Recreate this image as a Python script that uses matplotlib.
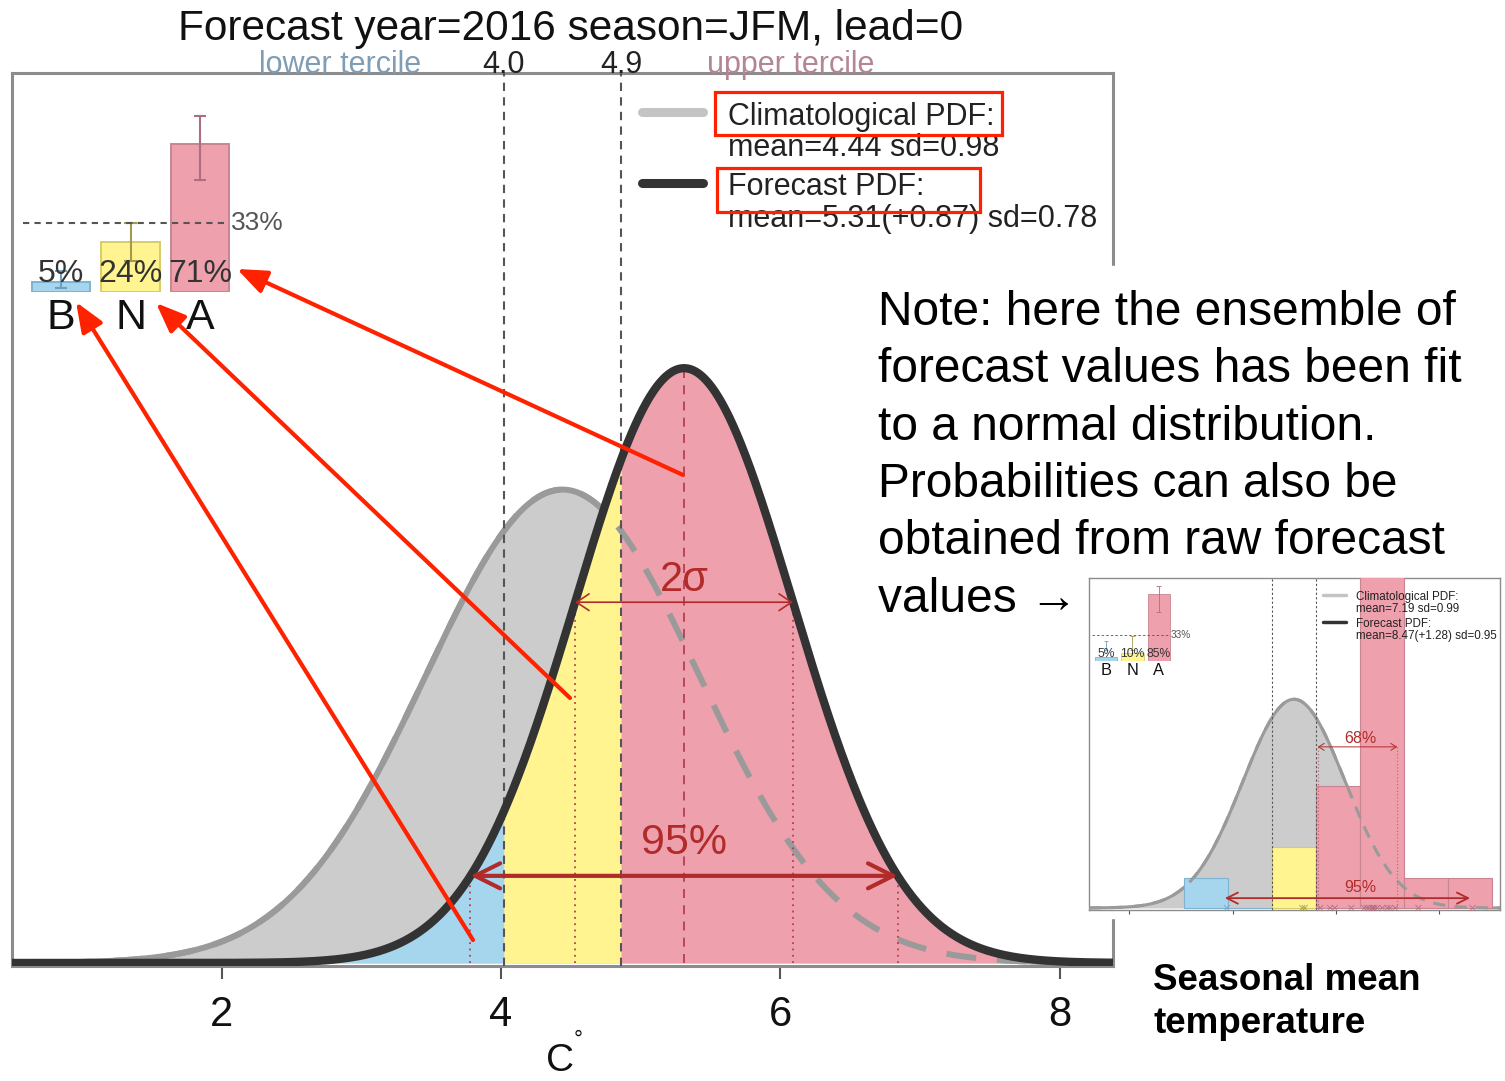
import numpy as np
import matplotlib
matplotlib.use('Agg')
import matplotlib.pyplot as plt
from matplotlib.patches import Rectangle, FancyArrowPatch
from matplotlib.lines import Line2D

plt.rcParams['font.family'] = ['Liberation Sans', 'DejaVu Sans']

W, H = 1505, 1081

# ensemble fitted to a normal distribution (main panel)
clim_mean, clim_sd = 4.44, 0.98
fc_mean, fc_sd = 5.31, 0.78
fc_shift = 0.87
terciles = [4.02, 4.86]
tercile_labels = ['4.0', '4.9']
xticks = [2, 4, 6, 8]

cats = ['B', 'N', 'A']
probs = [5, 24, 71]
probs_lo = [2, 15, 54]
probs_hi = [10, 33.3, 84.6]

# raw ensemble members (small panel)
raw_clim_mean, raw_clim_sd = 7.19, 0.99
raw_fc_mean, raw_fc_sd = 8.47, 0.95
raw_shift = 1.28
raw_terciles = [6.764, 7.616]
raw_members = [5.89, 7.35, 7.40, 7.70, 7.89, 7.98, 8.30, 8.55, 8.60, 8.65,
               8.70, 8.72, 8.75, 8.80, 8.90, 9.00, 9.05, 9.15, 9.60, 10.65]
raw_bins = [5.060, 5.912, 6.764, 7.616, 8.468, 9.320, 10.172, 11.024]
raw_68 = [7.65, 9.19]
raw_95 = [5.85, 10.60]
raw_xticks = [4, 6, 8, 10]
raw_probs = [5, 10, 85]
raw_lo = [14, 14, 62]
raw_hi = [25, 32, 95]

BLUE, YELLOW, PINK = '#a6d5ee', '#fff48f', '#eea0ac'
EDGES = ['#7eb3d3', '#d6cc6a', '#c98592']
ERR = ['#6e9fbf', '#a39b4c', '#ad6f80']
GRAYFILL, GRAYLINE, DARK = '#cccccc', '#9a9a9a', '#333333'
RED = '#b22b2b'
MARK = '#ff2200'
NARROW = ['Liberation Sans Narrow', 'Liberation Sans', 'DejaVu Sans']


def box(x0, y0, x1, y1):
    # pixel rectangle measured from the top-left corner -> figure fraction
    return [x0 / W, 1 - y1 / H, (x1 - x0) / W, (y1 - y0) / H]


def pt(x, y):
    return (x / W, 1 - y / H)


def npdf(x, m, s):
    return np.exp(-0.5 * ((x - m) / s) ** 2) / (s * np.sqrt(2 * np.pi))


def bar_panel(xb, yb, s, p, lo, hi, z):
    step, ppp = 69.5 * s, 2.08 * s
    bax = fig.add_axes(box(xb - 40 * s, yb - 100 * ppp, xb + 230 * s, yb))
    bax.set_xlim(-40 * s / step, 230 * s / step)
    bax.set_ylim(0, 100)
    bax.axis('off')
    bax.set_zorder(z)
    pos = np.arange(len(p))
    bax.bar(pos, p, width=0.84, color=[BLUE, YELLOW, PINK], edgecolor=EDGES,
            linewidth=max(1.4 * s, 0.6))
    lw = max(1.5 * s, 0.6)
    bax.vlines(pos, lo, hi, colors=ERR, lw=lw)
    bax.hlines(lo, pos - 0.09, pos + 0.09, colors=ERR, lw=lw)
    bax.hlines(hi, pos - 0.09, pos + 0.09, colors=ERR, lw=lw)
    bax.plot([-0.54, 2.42], [100 / 3] * 2, color='#555555', lw=lw,
             dashes=(3, 2.5))
    bax.text(2.44, 100 / 3, '33%', ha='left', va='center', fontsize=19 * s,
             color='#555555', family=NARROW)
    for i, c in enumerate(cats):
        bax.text(i, 8.5, f'{p[i]}%', ha='center', va='center',
                 fontsize=23 * s, color='#333333', family=NARROW)
        bax.text(i, -12.5, c, ha='center', va='center', fontsize=31 * s,
                 color='#111111')


def legend_block(x0, y0, s, clim_txt, fc_txt, z):
    for dy, col in [(-13, '#c4c4c4'), (58, DARK)]:
        fig.add_artist(Line2D([x0 / W, (x0 + 61 * s) / W],
                              [1 - (y0 + dy * s) / H] * 2, color=col,
                              lw=6.5 * s, solid_capstyle='round',
                              transform=fig.transFigure, zorder=z))
    for dy, txt in zip([0, 31, 70, 102],
                       ['Climatological PDF:', clim_txt, 'Forecast PDF:', fc_txt]):
        fig.text((x0 + 86 * s) / W, 1 - (y0 + dy * s) / H, txt, ha='left',
                 va='baseline', fontsize=22 * s, color='#222222', zorder=z)


fig = plt.figure(figsize=(W / 100, H / 100), dpi=100)

# ---------------- main panel ----------------
ax = fig.add_axes(box(12, 73, 1113, 966))
ax.set_xlim(0.5, 8.38)
ax.set_ylim(-0.0026, 0.7653)

x = np.linspace(0.5, 8.38, 900)
yc = npdf(x, clim_mean, clim_sd)
ax.fill_between(x, 0, yc, color=GRAYFILL, lw=0, zorder=1)
ax.plot(x, yc, color=GRAYLINE, lw=4.3, solid_capstyle='butt', zorder=2)

bounds = [0.5] + terciles + [8.38]
for lo, hi, col in zip(bounds[:-1], bounds[1:], [BLUE, YELLOW, PINK]):
    xs = np.linspace(lo, hi, 300)
    ax.fill_between(xs, 0, npdf(xs, fc_mean, fc_sd), color=col, lw=0, zorder=3)

ax.plot(x, yc, color=GRAYLINE, lw=4.3, dashes=(5, 3.5), zorder=4)

for t in terciles:
    ax.axvline(t, color='#555555', lw=1.5, dashes=(4, 3), zorder=5)

peak = npdf(fc_mean, fc_mean, fc_sd)
ax.plot([fc_mean] * 2, [0, peak], color='#b5404f', lw=1.3, dashes=(5, 4), zorder=5)
levels = {}
for k in (1, 1.96):
    lev = npdf(fc_mean + k * fc_sd, fc_mean, fc_sd)
    levels[k] = lev
    for sgn in (-1, 1):
        xv = fc_mean + sgn * k * fc_sd
        ax.plot([xv, xv], [0, lev], color='#b5404f', lw=1.3, dashes=(1, 2.5),
                zorder=5)

ax.plot(x, npdf(x, fc_mean, fc_sd), color=DARK, lw=6, solid_capstyle='butt',
        zorder=6)

ax.annotate('', xy=(fc_mean - fc_sd, levels[1]), xytext=(fc_mean + fc_sd, levels[1]),
            arrowprops=dict(arrowstyle='<->,head_length=0.45,head_width=0.3',
                            color=RED, lw=1.2, mutation_scale=20,
                            shrinkA=0, shrinkB=0), zorder=7)
ax.text(fc_mean, levels[1] + 0.019, '2σ', ha='center', va='center',
        fontsize=30, color=RED, family=NARROW, zorder=7)
ax.annotate('', xy=(fc_mean - 1.96 * fc_sd, levels[1.96]),
            xytext=(fc_mean + 1.96 * fc_sd, levels[1.96]),
            arrowprops=dict(arrowstyle='<->,head_length=0.9,head_width=0.45',
                            color=RED, lw=3, mutation_scale=20,
                            shrinkA=0, shrinkB=0), zorder=7)
ax.text(fc_mean, levels[1.96] + 0.028, '95%', ha='center', va='center',
        fontsize=31, color=RED, family=NARROW, zorder=7)

for sp in ax.spines.values():
    sp.set_color('#8c8c8c')
    sp.set_linewidth(2.2)
ax.set_yticks([])
ax.set_xticks(xticks)
ax.set_xticklabels([str(t) for t in xticks], family=NARROW)
ax.tick_params(axis='x', length=9, width=1.5, color='#555555', labelsize=30,
               pad=12, labelcolor='#111111')

# tercile labels above the frame
trans = ax.get_xaxis_transform()
for t, lab in zip(terciles, tercile_labels):
    ax.text(t, 1.0, lab, transform=trans, ha='center', va='baseline',
            fontsize=22, color='#222222', family=NARROW)
ax.text(2.85, 1.0, 'lower tercile', transform=trans, ha='center',
        va='baseline', fontsize=22, color='#7f9db5', family=NARROW)
ax.text(6.07, 1.0, 'upper tercile', transform=trans, ha='center',
        va='baseline', fontsize=22, color='#b48592', family=NARROW)

fig.text(*pt(571, 40), 'Forecast year=2016 season=JFM, lead=0', ha='center',
         va='baseline', fontsize=30.5, color='#111111', family=NARROW)
fig.text(*pt(560, 1071), 'C', ha='center', va='baseline', fontsize=28,
         color='#111111', family=NARROW)
fig.text(*pt(574, 1046), '°', ha='left', va='baseline', fontsize=16,
         color='#111111')

legend_block(642, 125, 1.0, f'mean={clim_mean:.2f} sd={clim_sd:.2f}',
             f'mean={fc_mean:.2f}(+{fc_shift:.2f}) sd={fc_sd:.2f}', 2)
bar_panel(61, 292, 1.0, probs, probs_lo, probs_hi, 1)

# hide the right frame edge behind the note
fig.add_artist(Rectangle(pt(1095, 918), (1505 - 1095) / W, (918 - 266) / H,
                         transform=fig.transFigure, color='white', zorder=1.5))

# ---------------- raw ensemble panel ----------------
iax = fig.add_axes(box(1089, 578, 1500, 910))
iax.set_zorder(3)
iax.set_xlim(3.22, 11.18)
iax.set_ylim(-0.0039, 0.637)
xi = np.linspace(3.22, 11.18, 600)
yi = npdf(xi, raw_clim_mean, raw_clim_sd)
iax.fill_between(xi, 0, yi, color=GRAYFILL, lw=0, zorder=1)
iax.plot(xi, yi, color=GRAYLINE, lw=2.2, zorder=2)
_, _, patches = iax.hist(raw_members, bins=raw_bins, density=True, zorder=3)
for patch, lo in zip(patches, raw_bins[:-1]):
    if lo < raw_terciles[0]:
        fc, ec = BLUE, EDGES[0]
    elif lo < raw_terciles[1]:
        fc, ec = YELLOW, EDGES[1]
    else:
        fc, ec = PINK, EDGES[2]
    patch.set_facecolor(fc)
    patch.set_edgecolor(ec)
    patch.set_linewidth(0.8)
iax.plot(xi, yi, color=GRAYLINE, lw=2.2, dashes=(4, 3), zorder=4)
for t in raw_terciles:
    iax.axvline(t, color='#555555', lw=0.8, dashes=(2, 2), zorder=5)
lev68 = 0.311
for xv in raw_68:
    iax.plot([xv, xv], [0, lev68], color='#c06070', lw=0.8, dashes=(1, 2),
             zorder=5)
iax.annotate('', xy=(raw_68[0], lev68), xytext=(raw_68[1], lev68),
             arrowprops=dict(arrowstyle='<->,head_length=0.4,head_width=0.25',
                             color=RED, lw=0.7, mutation_scale=10,
                             shrinkA=0, shrinkB=0), zorder=6)
iax.text(raw_fc_mean, lev68 + 0.016, '68%', ha='center', va='center',
         fontsize=11.5, color=RED, family=NARROW, zorder=6)
iax.annotate('', xy=(raw_95[0], 0.019), xytext=(raw_95[1], 0.019),
             arrowprops=dict(arrowstyle='<->,head_length=0.8,head_width=0.4',
                             color=RED, lw=1.3, mutation_scale=10,
                             shrinkA=0, shrinkB=0), zorder=6)
iax.text(raw_fc_mean, 0.04, '95%', ha='center', va='center', fontsize=11.5,
         color=RED, family=NARROW, zorder=6)
mcols = [ERR[0] if m < raw_terciles[0] else ERR[1] if m < raw_terciles[1]
         else ERR[2] for m in raw_members]
iax.scatter(raw_members, np.zeros(len(raw_members)), marker='x', s=18,
            c=mcols, linewidths=0.7, alpha=0.8, clip_on=False, zorder=7)
for sp in iax.spines.values():
    sp.set_color('#8c8c8c')
    sp.set_linewidth(1)
iax.set_yticks([])
iax.set_xticks(raw_xticks)
iax.set_xticklabels([])
iax.tick_params(axis='x', length=3, width=0.8, color='#555555')

legend_block(1323, 600, 0.38, f'mean={raw_clim_mean:.2f} sd={raw_clim_sd:.2f}',
             f'mean={raw_fc_mean:.2f}(+{raw_shift:.2f}) sd={raw_fc_sd:.2f}', 4)
bar_panel(1106, 661, 0.38, raw_probs, raw_lo, raw_hi, 4)

# ---------------- highlights and notes ----------------
for x0, y0, x1, y1 in [(715, 92, 1002, 135), (717, 168, 980, 212)]:
    fig.add_artist(Rectangle(pt(x0, y1), (x1 - x0) / W, (y1 - y0) / H,
                             transform=fig.transFigure, fill=False,
                             ec=MARK, lw=2.3, zorder=8))
for start, end in [((683, 475), (237, 269)), ((570, 698), (156, 303)),
                   ((473, 940), (76, 302))]:
    fig.add_artist(FancyArrowPatch(pt(*start), pt(*end),
                                   transform=fig.transFigure,
                                   arrowstyle='-|>,head_length=0.45,head_width=0.18',
                                   mutation_scale=40, color=MARK, lw=3,
                                   shrinkA=0, shrinkB=0, zorder=9))

note = ['Note: here the ensemble of', 'forecast values has been fit',
        'to a normal distribution.', 'Probabilities can also be',
        'obtained from raw forecast', 'values →']
for i, line in enumerate(note):
    fig.text(*pt(878, 325 + 57.3 * i), line, ha='left', va='baseline',
             fontsize=34.5, color='black', zorder=8)
fig.text(*pt(1153, 990), 'Seasonal mean', ha='left', va='baseline',
         fontsize=26.5, fontweight='bold', color='black')
fig.text(*pt(1153, 1033), 'temperature', ha='left', va='baseline',
         fontsize=26.5, fontweight='bold', color='black')

fig.savefig('out.png', dpi=100)
